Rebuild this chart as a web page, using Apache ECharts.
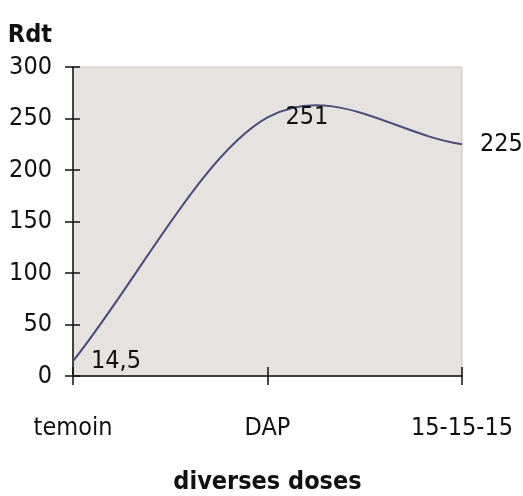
<!DOCTYPE html>
<html>
<head>
<meta charset="utf-8">
<script src="https://cdn.jsdelivr.net/npm/echarts@6/dist/echarts.min.js"></script>
<style>
  html, body { margin: 0; padding: 0; background: #fff; }
  #chart { width: 523px; height: 496px; }
</style>
</head>
<body>
<div id="chart"></div>
<script>
const categories = ["temoin", "DAP", "15-15-15"];
const rdtValues = [14.5, 251, 225];
const yTicks = { min: 0, max: 300, interval: 50 };

const FONT = '"DejaVu Sans Condensed", "Liberation Sans Narrow", sans-serif';
const FS = 25;
const chart = echarts.init(document.getElementById("chart"));

const tickLine = { color: "#111", width: 1.5 };

// Excel-style smoothed line (Catmull-Rom through the data points)
const renderCurve = (params, api) => {
  const p = rdtValues.map((v, i) => api.coord([i, v]));
  let d = `M${p[0][0]} ${p[0][1]}`;
  for (let i = 0; i < p.length - 1; i++) {
    const prev = p[i - 1] || p[i];
    const next2 = p[i + 2] || p[i + 1];
    const c1 = [p[i][0] + (p[i + 1][0] - prev[0]) / 6, p[i][1] + (p[i + 1][1] - prev[1]) / 6];
    const c2 = [p[i + 1][0] - (next2[0] - p[i][0]) / 6, p[i + 1][1] - (next2[1] - p[i][1]) / 6];
    if (!p[i - 1]) { c1[0] = p[i][0] + (p[i + 1][0] - p[i][0]) / 3; c1[1] = p[i][1] + (p[i + 1][1] - p[i][1]) / 3; }
    if (!p[i + 2]) { c2[0] = p[i + 1][0] - (p[i + 1][0] - p[i][0]) / 3; c2[1] = p[i + 1][1] - (p[i + 1][1] - p[i][1]) / 3; }
    d += ` C${c1[0]} ${c1[1]} ${c2[0]} ${c2[1]} ${p[i + 1][0]} ${p[i + 1][1]}`;
  }
  return {
    type: "path",
    shape: { pathData: d },
    style: { fill: null, stroke: "#4a4a7e", lineWidth: 2 }
  };
};

chart.setOption({
  animation: false,
  grid: {
    left: 73, right: 61, top: 67, bottom: 120,
    outerBoundsMode: "none",
    show: true,
    backgroundColor: "#e5e2df",
    borderColor: "#c8c5c2",
    borderWidth: 1
  },
  xAxis: [
    {
      type: "category",
      data: categories,
      boundaryGap: false,
      name: "diverses doses",
      nameLocation: "middle",
      nameGap: 94,
      nameTextStyle: { fontFamily: FONT, fontSize: FS, fontWeight: "bold", color: "#111" },
      axisLine: { lineStyle: tickLine },
      axisTick: { length: 9, lineStyle: tickLine },
      axisLabel: { fontFamily: FONT, fontSize: FS, color: "#111", margin: 40 }
    },
    {
      type: "category",
      data: categories,
      boundaryGap: false,
      position: "bottom",
      axisLine: { show: false },
      axisTick: { inside: true, length: 9, lineStyle: tickLine },
      axisLabel: { show: false }
    }
  ],
  yAxis: [
    {
      type: "value",
      min: yTicks.min,
      max: yTicks.max,
      interval: yTicks.interval,
      name: "Rdt",
      nameLocation: "end",
      nameGap: 19,
      nameTextStyle: {
        fontFamily: FONT, fontSize: FS, fontWeight: "bold", color: "#111",
        align: "right", verticalAlign: "bottom", padding: [0, 21, 0, 0]
      },
      axisLine: { show: true, lineStyle: tickLine },
      axisTick: { show: true, length: 8, lineStyle: tickLine },
      axisLabel: { fontFamily: FONT, fontSize: FS, color: "#111", margin: 21 },
      splitLine: { show: false }
    },
    {
      type: "value",
      min: yTicks.min,
      max: yTicks.max,
      interval: yTicks.interval,
      position: "left",
      axisLine: { show: false },
      axisTick: { show: true, inside: true, length: 7, lineStyle: tickLine },
      axisLabel: { show: false },
      splitLine: { show: false }
    }
  ],
  series: [
    {
      type: "custom",
      data: [[0, rdtValues[0]]],
      renderItem: renderCurve,
      silent: true,
      z: 2
    },
    {
      type: "scatter",
      data: rdtValues,
      symbolSize: 0,
      silent: true,
      z: 3,
      itemStyle: { opacity: 1 },
      label: {
        show: true,
        position: "right",
        distance: 18,
        fontFamily: FONT,
        fontSize: FS,
        color: "#111",
        formatter: p => String(p.value).replace(".", ",")
      }
    }
  ]
});
</script>
</body>
</html>
